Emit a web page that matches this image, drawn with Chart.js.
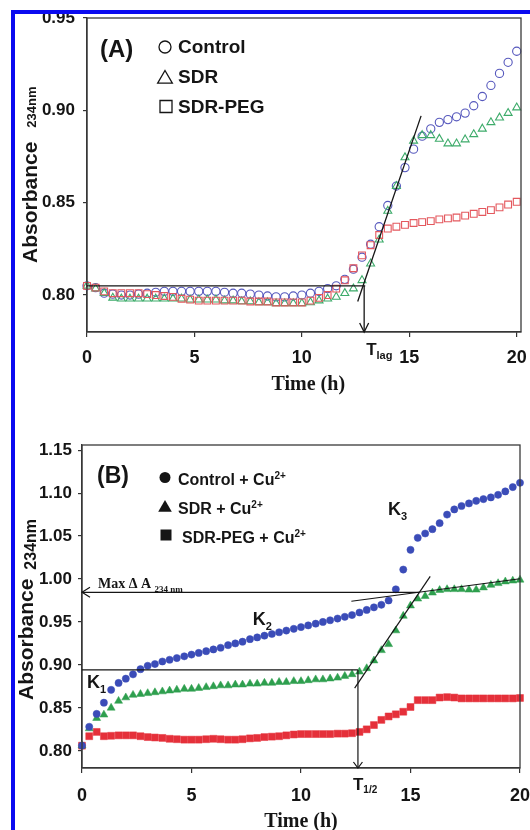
<!DOCTYPE html>
<html>
<head>
<meta charset="utf-8">
<script src="https://cdn.jsdelivr.net/npm/chart.js@4.4.0/dist/chart.umd.min.js"></script>
<style>
  html, body { margin: 0; padding: 0; background: #fff; }
  body { width: 530px; height: 830px; position: relative; overflow: hidden; }
  canvas { position: absolute; left: 0; }
  #chartA { top: 0; }
  #chartB { top: 410px; }
  #frame {
    position: absolute; left: 11px; top: 10px; width: 600px; height: 900px;
    border-left: 4px solid #0a0af0; border-top: 4px solid #0a0af0;
  }
</style>
</head>
<body>
<canvas id="chartA" width="530" height="410"></canvas>
<canvas id="chartB" width="530" height="420"></canvas>
<div id="frame"></div>
<script>
const SANS = "'Liberation Sans', Arial, sans-serif";
const SERIF = "'Liberation Serif', 'Times New Roman', serif";

// ── Panel A: no copper (open markers) ────────────────────────────────────────
const timeA = [0, 0.4, 0.8, 1.2, 1.6, 2, 2.4, 2.8, 3.2, 3.6, 4, 4.4, 4.8, 5.2, 5.6, 6, 6.4,
  6.8, 7.2, 7.6, 8, 8.4, 8.8, 9.2, 9.6, 10, 10.4, 10.8, 11.2, 11.6, 12, 12.4, 12.8, 13.2,
  13.6, 14, 14.4, 14.8, 15.2, 15.6, 16, 16.4, 16.8, 17.2, 17.6, 18, 18.4, 18.8, 19.2, 19.6, 20];
const controlA = [0.805, 0.804, 0.801, 0.8005, 0.800, 0.800, 0.8005, 0.801, 0.8015, 0.802,
  0.802, 0.802, 0.802, 0.802, 0.802, 0.802, 0.8015, 0.801, 0.801, 0.8005,
  0.800, 0.7995, 0.799, 0.799, 0.7995, 0.800, 0.801, 0.802, 0.8035, 0.805,
  0.8085, 0.814, 0.8205, 0.8275, 0.837, 0.8485, 0.859, 0.869, 0.879, 0.886,
  0.890, 0.8935, 0.895, 0.8965, 0.8985, 0.9025, 0.9075, 0.9135, 0.920, 0.926, 0.932];
const sdrA = [0.805, 0.8035, 0.801, 0.7985, 0.798, 0.798, 0.798, 0.798, 0.798, 0.798,
  0.798, 0.798, 0.7975, 0.7975, 0.7975, 0.7975, 0.797, 0.797, 0.7965, 0.7965,
  0.796, 0.796, 0.7955, 0.7955, 0.7955, 0.7955, 0.796, 0.797, 0.798, 0.799,
  0.801, 0.8035, 0.808, 0.817, 0.830, 0.8455, 0.859, 0.8745, 0.8835, 0.8865,
  0.8865, 0.8845, 0.882, 0.882, 0.8842, 0.887, 0.890, 0.8935, 0.896, 0.8985, 0.9015];
const pegA = [0.805, 0.804, 0.802, 0.801, 0.801, 0.801, 0.801, 0.8005, 0.800, 0.7995,
  0.799, 0.798, 0.7975, 0.797, 0.797, 0.797, 0.797, 0.797, 0.797, 0.7965,
  0.7965, 0.7965, 0.796, 0.796, 0.796, 0.796, 0.797, 0.7985, 0.800, 0.8035,
  0.808, 0.8145, 0.8215, 0.827, 0.8325, 0.836, 0.837, 0.838, 0.839, 0.8395,
  0.840, 0.841, 0.8415, 0.842, 0.843, 0.844, 0.845, 0.846, 0.8475, 0.849, 0.8505];

// ── Panel B: with Cu2+ (filled markers) ──────────────────────────────────────
const timeB = [0, 0.33, 0.67, 1, 1.33, 1.67, 2, 2.33, 2.67, 3, 3.33, 3.67, 4, 4.33, 4.67,
  5, 5.33, 5.67, 6, 6.33, 6.67, 7, 7.33, 7.67, 8, 8.33, 8.67, 9, 9.33, 9.67, 10, 10.33,
  10.67, 11, 11.33, 11.67, 12, 12.33, 12.67, 13, 13.33, 13.67, 14, 14.33, 14.67, 15,
  15.33, 15.67, 16, 16.33, 16.67, 17, 17.33, 17.67, 18, 18.33, 18.67, 19, 19.33, 19.67, 20];
const controlB = [0.806, 0.828, 0.843, 0.856, 0.871, 0.879, 0.884, 0.889, 0.895, 0.899,
  0.901, 0.904, 0.906, 0.908, 0.910, 0.912, 0.914, 0.916, 0.918, 0.920,
  0.923, 0.925, 0.927, 0.930, 0.932, 0.934, 0.936, 0.938, 0.940, 0.942,
  0.944, 0.946, 0.948, 0.950, 0.952, 0.954, 0.956, 0.958, 0.961, 0.964,
  0.967, 0.970, 0.975, 0.988, 1.011, 1.034, 1.048, 1.053, 1.058, 1.065,
  1.075, 1.081, 1.085, 1.088, 1.091, 1.093, 1.095, 1.098, 1.102, 1.107, 1.112];
const sdrB = [0.806, 0.826, 0.838, 0.842, 0.850, 0.858, 0.862, 0.865, 0.866, 0.867,
  0.868, 0.869, 0.870, 0.871, 0.872, 0.872, 0.873, 0.874, 0.875, 0.876,
  0.876, 0.877, 0.877, 0.878, 0.878, 0.879, 0.879, 0.880, 0.880, 0.881,
  0.881, 0.882, 0.883, 0.883, 0.884, 0.885, 0.887, 0.889, 0.892, 0.896,
  0.905, 0.917, 0.924, 0.940, 0.957, 0.969, 0.977, 0.980, 0.984, 0.987,
  0.988, 0.988, 0.988, 0.9875, 0.9875, 0.990, 0.993, 0.995, 0.997, 0.998, 0.999];
const pegB = [0.806, 0.817, 0.822, 0.817, 0.8175, 0.818, 0.818, 0.818, 0.817, 0.816,
  0.8155, 0.815, 0.814, 0.8135, 0.813, 0.813, 0.813, 0.8135, 0.814, 0.8135,
  0.813, 0.813, 0.8135, 0.8145, 0.815, 0.816, 0.8165, 0.817, 0.818, 0.819,
  0.8195, 0.8195, 0.8195, 0.8195, 0.8195, 0.820, 0.820, 0.8205, 0.822, 0.825,
  0.830, 0.836, 0.840, 0.8425, 0.8455, 0.851, 0.859, 0.859, 0.859, 0.862,
  0.8625, 0.862, 0.861, 0.861, 0.861, 0.861, 0.861, 0.861, 0.861, 0.861, 0.8615];

const xTicks = [0, 5, 10, 15, 20];
const yTicksA = [0.80, 0.85, 0.90, 0.95];
const yTicksB = [0.80, 0.85, 0.90, 0.95, 1.00, 1.05, 1.10, 1.15];

// guide lines drawn on the figure, as [time, absorbance] pairs
const lagBaseA = [[0, 0.805], [12.95, 0.805]];
const lagTangentA = [[12.6, 0.7965], [15.55, 0.897]];
const lagTimeA = 12.9;
const maxLineB = [[0, 0.9845], [15.4, 0.9845]];
const plateauB = [[12.3, 0.9741], [20, 1.0003]];
const riseB = [[12.45, 0.873], [15.9, 1.003]];
const halfLineB = [[0, 0.8942], [12.6, 0.8942]];
const halfTimeB = 12.6;

const INK = '#151515';

function pts(xs, ys) {
  return xs.map((x, i) => ({ x, y: ys[i] }));
}

function series(data, style, color, radius, filled) {
  return {
    data,
    showLine: false,
    clip: false,
    pointStyle: style,
    pointRadius: radius,
    pointBorderColor: color,
    pointBackgroundColor: filled ? color : 'rgba(0,0,0,0)',
    pointBorderWidth: filled ? 0.5 : 1.1,
  };
}

// Pieces of text with their own size / vertical shift (sub- and superscripts)
function richText(ctx, x, y, parts, family) {
  let cx = x;
  parts.forEach(([t, size, dy]) => {
    ctx.font = `bold ${size}px ${family || SANS}`;
    ctx.fillText(t, cx, y + (dy || 0));
    cx += ctx.measureText(t).width;
  });
}

function segment(chart, a, b) {
  const { x, y } = chart.scales;
  const ctx = chart.ctx;
  ctx.beginPath();
  ctx.moveTo(x.getPixelForValue(a[0]), y.getPixelForValue(a[1]));
  ctx.lineTo(x.getPixelForValue(b[0]), y.getPixelForValue(b[1]));
  ctx.stroke();
}

function chevron(ctx, px, py, dir, len, half) {
  ctx.beginPath();
  if (dir === 'down') {
    ctx.moveTo(px - half, py - len); ctx.lineTo(px, py); ctx.lineTo(px + half, py - len);
  } else {
    ctx.moveTo(px + len, py - half); ctx.lineTo(px, py); ctx.lineTo(px + len, py + half);
  }
  ctx.stroke();
}

function marker(ctx, kind, cx, cy, s, filled) {
  ctx.beginPath();
  if (kind === 'circle') ctx.arc(cx, cy, s, 0, Math.PI * 2);
  else if (kind === 'triangle') {
    ctx.moveTo(cx, cy - s); ctx.lineTo(cx + s * 1.05, cy + s * 0.8); ctx.lineTo(cx - s * 1.05, cy + s * 0.8);
    ctx.closePath();
  } else ctx.rect(cx - s, cy - s, 2 * s, 2 * s);
  if (filled) ctx.fill(); else ctx.stroke();
}

function yTitle(ctx, bx, by, gap, subSize, subDy) {
  ctx.save();
  ctx.translate(bx, by);
  ctx.rotate(-Math.PI / 2);
  ctx.fillStyle = INK;
  ctx.textAlign = 'left';
  ctx.textBaseline = 'alphabetic';
  ctx.font = `bold 21px ${SANS}`;
  ctx.fillText('Absorbance', 0, 0);
  const w = ctx.measureText('Absorbance').width;
  ctx.font = `bold ${subSize}px ${SANS}`;
  ctx.fillText('234nm', w + gap, subDy);
  ctx.restore();
}

function xTitle(ctx, cx, cy) {
  ctx.fillStyle = INK;
  ctx.textAlign = 'center';
  ctx.textBaseline = 'middle';
  ctx.font = `bold 20px ${SERIF}`;
  ctx.fillText('Time (h)', cx, cy);
}

function frameBox(chart) {
  const { ctx, chartArea: a } = chart;
  ctx.strokeStyle = '#3a3a3a';
  ctx.lineWidth = 1.3;
  ctx.strokeRect(a.left, a.top, a.right - a.left, a.bottom - a.top);
}

const decorA = {
  id: 'decorA',
  afterDraw(chart) {
    const { ctx, chartArea: a, scales } = chart;
    const sx = scales.x, sy = scales.y;
    ctx.save();
    frameBox(chart);
    ctx.strokeStyle = INK;
    ctx.lineWidth = 1.3;
    segment(chart, lagBaseA[0], lagBaseA[1]);
    segment(chart, lagTangentA[0], lagTangentA[1]);
    const ax = sx.getPixelForValue(lagTimeA);
    ctx.beginPath();
    ctx.moveTo(ax, sy.getPixelForValue(lagBaseA[0][1]));
    ctx.lineTo(ax, a.bottom);
    ctx.stroke();
    chevron(ctx, ax, a.bottom, 'down', 9, 4.5);

    ctx.fillStyle = INK;
    ctx.textAlign = 'left';
    ctx.textBaseline = 'alphabetic';
    richText(ctx, ax + 2, 355, [['T', 17], ['lag', 11, 4]]);

    richText(ctx, 100, 57, [['(A)', 24]]);
    ctx.lineWidth = 1.3;
    ctx.strokeStyle = INK;
    marker(ctx, 'circle', 165, 47, 6, false);
    marker(ctx, 'triangle', 165, 77.5, 7, false);
    marker(ctx, 'rect', 166, 106.5, 6, false);
    richText(ctx, 178, 53, [['Control', 19]]);
    richText(ctx, 178, 83, [['SDR', 19]]);
    richText(ctx, 178, 113, [['SDR-PEG', 19]]);

    yTitle(ctx, 37, 263, 14, 13, -1);
    xTitle(ctx, sx.getPixelForValue(10.3), a.bottom + 53);
    ctx.restore();
  },
};

const decorB = {
  id: 'decorB',
  afterDraw(chart) {
    const { ctx, chartArea: a, scales } = chart;
    const sx = scales.x, sy = scales.y;
    ctx.save();
    frameBox(chart);
    ctx.strokeStyle = INK;
    ctx.lineWidth = 1.2;
    segment(chart, maxLineB[0], maxLineB[1]);
    chevron(ctx, sx.getPixelForValue(0), sy.getPixelForValue(maxLineB[0][1]), 'left', 8, 5);
    segment(chart, plateauB[0], plateauB[1]);
    segment(chart, riseB[0], riseB[1]);
    segment(chart, halfLineB[0], halfLineB[1]);
    const ax = sx.getPixelForValue(halfTimeB);
    ctx.beginPath();
    ctx.moveTo(ax, sy.getPixelForValue(halfLineB[0][1]));
    ctx.lineTo(ax, a.bottom);
    ctx.stroke();
    chevron(ctx, ax, a.bottom, 'down', 6, 4.5);

    ctx.fillStyle = INK;
    ctx.textAlign = 'left';
    ctx.textBaseline = 'alphabetic';
    richText(ctx, ax - 5, 380, [['T', 17], ['1/2', 10, 3]]);

    richText(ctx, sx.getPixelForValue(0.23), sy.getPixelForValue(0.8733), [['K', 18], ['1', 11, 5]]);
    richText(ctx, sx.getPixelForValue(7.8), sy.getPixelForValue(0.9465), [['K', 18], ['2', 11, 5]]);
    richText(ctx, sx.getPixelForValue(13.97), sy.getPixelForValue(1.0744), [['K', 18], ['3', 11, 5]]);
    richText(ctx, sx.getPixelForValue(0.73), sy.getPixelForValue(0.9895),
      [['Max ', 14], ['\u0394', 14], [' A ', 14], ['234 nm', 9, 4]], SERIF);

    richText(ctx, 97, 73, [['(B)', 23]]);
    marker(ctx, 'circle', 165, 67.5, 5.5, true);
    marker(ctx, 'triangle', 165, 96.5, 6.5, true);
    marker(ctx, 'rect', 166, 125, 5.5, true);
    richText(ctx, 178, 75, [['Control + Cu', 16], ['2+', 10, -6]]);
    richText(ctx, 178, 104, [['SDR + Cu', 16], ['2+', 10, -6]]);
    richText(ctx, 182, 133, [['SDR-PEG + Cu', 16], ['2+', 10, -6]]);

    yTitle(ctx, 33, 290, 9, 16, 3);
    xTitle(ctx, sx.getPixelForValue(10), a.bottom + 54);
    ctx.restore();
  },
};

function scalesFor(cfg) {
  return {
    x: {
      type: 'linear',
      min: 0,
      max: cfg.xMax,
      afterFit: (s) => {
        s.height = cfg.xHeight;
        // the edge labels may run past the plot box, as in the original
        s.paddingLeft = 0;
        s.paddingRight = 0;
      },
      afterBuildTicks: (s) => { s.ticks = xTicks.map((v) => ({ value: v })); },
      grid: { drawOnChartArea: false, drawTicks: true, tickLength: 5, color: '#333', lineWidth: 1.2 },
      border: { display: true, color: '#333', width: 1.3 },
      ticks: {
        color: INK,
        maxRotation: 0,
        padding: cfg.xPad,
        font: { family: SANS, size: 18, weight: 'bold' },
        callback: (v) => String(v),
      },
    },
    y: {
      type: 'linear',
      min: cfg.yMin,
      max: cfg.yMax,
      afterFit: (s) => {
        s.width = cfg.left;
        s.paddingTop = 0;
        s.paddingBottom = 0;
      },
      afterBuildTicks: (s) => { s.ticks = cfg.yTicks.map((v) => ({ value: v })); },
      grid: { drawOnChartArea: false, drawTicks: true, tickLength: 4, color: '#333', lineWidth: 1.2 },
      border: { display: true, color: '#333', width: 1.3 },
      ticks: {
        color: INK,
        padding: cfg.yPad,
        font: { family: SANS, size: 17, weight: 'bold' },
        callback: (v) => Number(v).toFixed(2),
      },
    },
  };
}

function baseOptions(padding, scales) {
  return {
    responsive: false,
    animation: false,
    devicePixelRatio: 1,
    events: [],
    layout: { padding },
    plugins: { legend: { display: false }, tooltip: { enabled: false } },
    scales,
  };
}

new Chart(document.getElementById('chartA'), {
  type: 'scatter',
  data: {
    datasets: [
      series(pts(timeA, pegA), 'rect', '#e4585e', 4.8, false),
      series(pts(timeA, sdrA), 'triangle', '#3dab6a', 4.6, false),
      series(pts(timeA, controlA), 'circle', '#5658bd', 4.1, false),
    ],
  },
  options: baseOptions({ left: 0, right: 9, top: 18, bottom: 0 },
    scalesFor({ xMax: 20.2, xHeight: 78, xPad: 10, yMin: 0.78, yMax: 0.95, left: 87, yPad: 8, yTicks: yTicksA })),
  plugins: [decorA],
});

new Chart(document.getElementById('chartB'), {
  type: 'scatter',
  data: {
    datasets: [
      series(pts(timeB, controlB), 'circle', '#3b4cb8', 3.6, true),
      series(pts(timeB, sdrB), 'triangle', '#2e9f4e', 4.6, true),
      series(pts(timeB, pegB), 'rect', '#e5303a', 4.9, true),
    ],
  },
  options: baseOptions({ left: 0, right: 10, top: 35, bottom: 0 },
    scalesFor({ xMax: 20, xHeight: 62, xPad: 12, yMin: 0.78, yMax: 1.156, left: 82, yPad: 6, yTicks: yTicksB })),
  plugins: [decorB],
});
</script>
</body>
</html>
